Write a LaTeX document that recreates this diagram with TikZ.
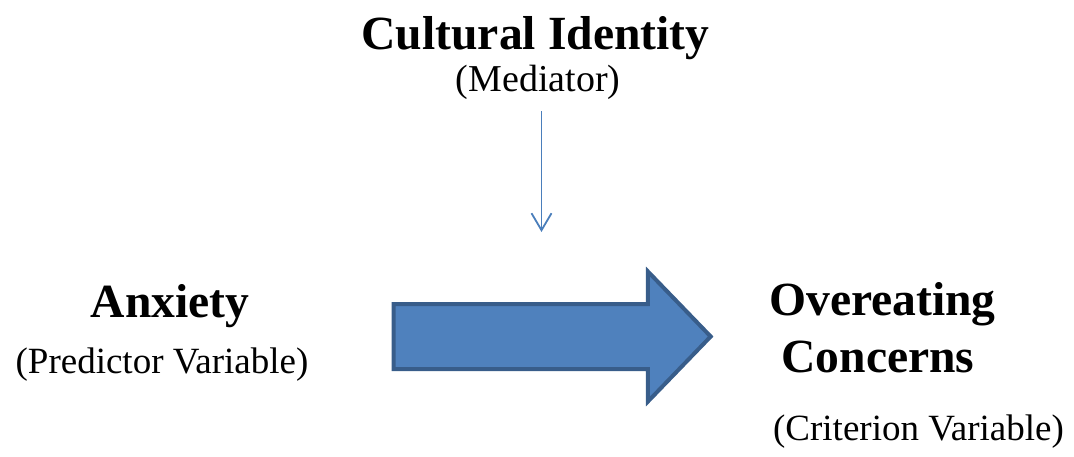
\documentclass[tikz,border=0pt]{standalone}
\usepackage{fontspec}
\setmainfont{Liberation Serif}
\usetikzlibrary{shapes.arrows,arrows.meta}
\definecolor{flowfill}{HTML}{4F81BD}
\definecolor{flowline}{HTML}{385D8A}
\definecolor{medline}{HTML}{4A7EBB}

\begin{document}
\begin{tikzpicture}[x=1pt,y=-1pt,
  title/.style={anchor=base,inner sep=0pt,font=\fontsize{47.6}{57}\selectfont\bfseries},
  role/.style={anchor=base,inner sep=0pt,font=\fontsize{37}{44}\selectfont},
  flow/.style={single arrow,draw=flowline,fill=flowfill,line width=4pt,
    single arrow head extend=32.5pt,single arrow tip angle=92,
    minimum height=317pt,inner xsep=0pt,inner ysep=30.5pt},
  medarrow/.style={draw=medline,line width=1.8pt,-{Straight Barb[length=17pt,width=20pt]}}]
\useasboundingbox (0,0) rectangle (1074,456);
\node [title] (ci) at (535.5,49) {Cultural Identity};
\node [role,font=\fontsize{38}{44}\selectfont] (med) at (538,91) {(Mediator)};
\node [title] (anx) at (170,317) {Anxiety};
\node [role] (pred) at (162,373) {(Predictor Variable)};
\node [title] (over) at (882.5,315) {Overeating};
\node [title] (conc) at (878,372) {Concerns};
\node [role] (crit) at (918.5,440) {(Criterion Variable)};
\node [flow] (arr) at (536.5,336.5) {};
\coordinate (mtop) at (541.5,111);
\coordinate (mtip) at (541.5,232);
\draw [medarrow] (mtop) -- (mtip);
\end{tikzpicture}
\end{document}
